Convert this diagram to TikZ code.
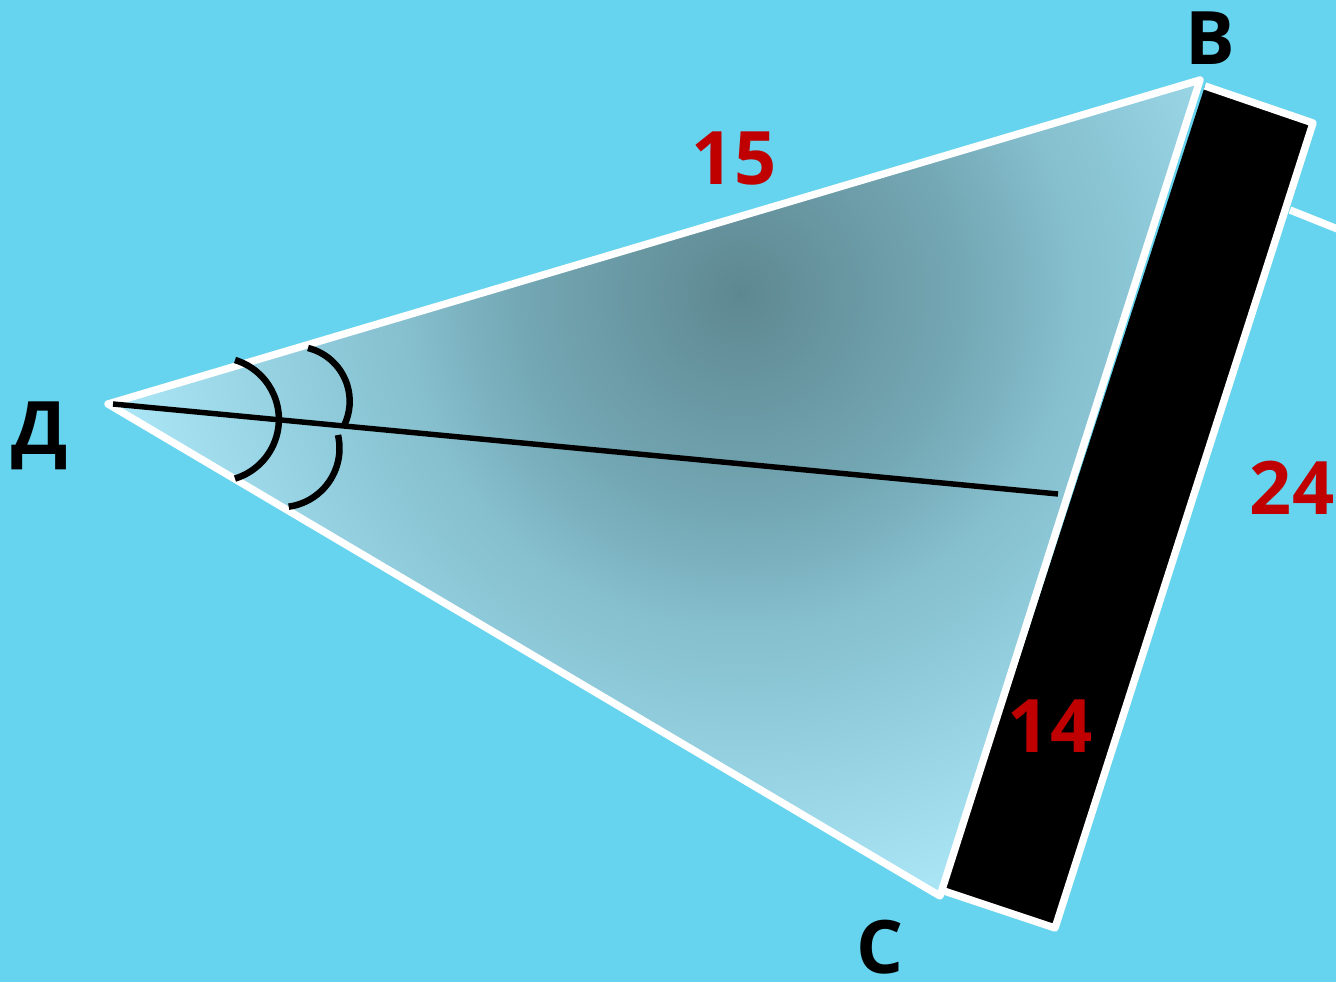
\documentclass[tikz,border=0pt]{standalone}
\usepackage{fontspec}
\setmainfont{Open Sans}
\definecolor{SkyBlue}{HTML}{66D4EE}
\definecolor{GlowCore}{HTML}{5E8891}
\definecolor{GlowInner}{HTML}{74A8B5}
\definecolor{GlowMid}{HTML}{86BFCE}
\definecolor{GlowOuter}{HTML}{90CCDC}
\definecolor{GlowRim}{HTML}{A8E4F4}
\definecolor{GlowEdge}{HTML}{AEE9F8}
\definecolor{SideRed}{HTML}{C00000}
\pgfdeclareradialshading{glow}{\pgfpoint{0bp}{0bp}}{color(0bp)=(GlowCore); color(8bp)=(GlowInner); color(12bp)=(GlowMid); color(15.5bp)=(GlowOuter); color(22bp)=(GlowRim); color(25bp)=(GlowEdge); color(50bp)=(GlowEdge)}

\begin{document}
\begin{tikzpicture}[x=0.02cm,y=-0.02cm,line join=round,
  edge/.style={white,line width=4.2pt},
  anglemark/.style={black,line width=3.7pt},
  every node/.style={anchor=base,inner sep=0pt,font=\bfseries\fontsize{42}{50}\selectfont},
  sidelen/.style={text=SideRed}]
  \useasboundingbox (0,0) rectangle (1336,982);
  \fill[SkyBlue] (0,0) rectangle (1336,982);
  \clip (0,0) rectangle (1336,982);
  \coordinate (D) at (108,404);
  \coordinate (B) at (1200,80);
  \coordinate (C) at (940,896);
  \coordinate (d0) at (113,404);
  \coordinate (f) at (1058,494);
  \coordinate (p1) at (1205,86);
  \coordinate (p2) at (1313,123);
  \coordinate (p3) at (1055,928);
  \coordinate (p4) at (944,891);
  \coordinate (q1) at (1290,210);
  \coordinate (q2) at (1345,232);
  \begin{scope}
    \clip (D) -- (B) -- (C) -- cycle;
    \shade[shading=glow] (740,293) circle (700);
  \end{scope}
  \fill[black] (p1) -- (p2) -- (p3) -- (p4) -- cycle;
  \draw[edge] (p1) -- (p2) -- (p3) -- (p4);
  \draw[edge] (q1) -- (q2);
  \draw[edge] (D) -- (B) -- (C) -- cycle;
  \draw[line width=3.1pt] (d0) -- (f);
  \draw[anglemark] (235,360) arc[start angle=-73,end angle=73,radius=62];
  \draw[anglemark] (308,348) arc[start angle=-76,end angle=25,radius=55];
  \draw[anglemark] (338,435) arc[start angle=-13,end angle=82,radius=59];
  \node (b) at (1210,65) {В};
  \node (c) at (880,973) {С};
  \node (d) at (40,455) {Д};
  \node[sidelen] (db) at (734,185) {15};
  \node[sidelen] (bc) at (1292,515) {24};
  \node[sidelen] (dc) at (1050,753) {14};
\end{tikzpicture}
\end{document}
